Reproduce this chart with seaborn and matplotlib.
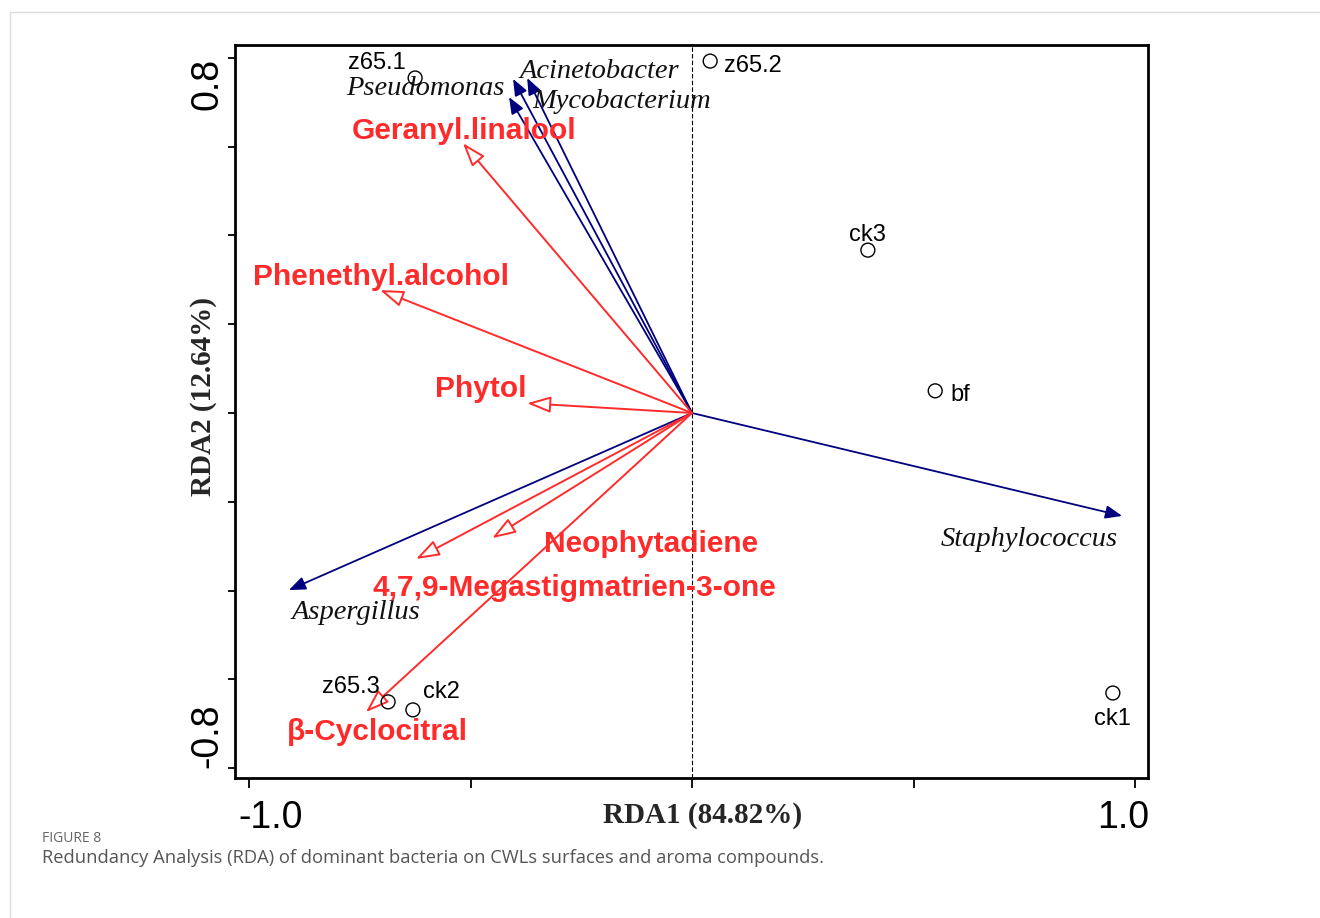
import matplotlib
matplotlib.use('Agg')
import matplotlib.pyplot as plt
import matplotlib.transforms as mtransforms
from matplotlib.lines import Line2D
import seaborn as sns
import pandas as pd

# ---------------- data ----------------
species = ['Pseudomonas', 'Acinetobacter', 'Mycobacterium', 'Staphylococcus', 'Aspergillus']
species_rda1 = [-0.413, -0.404, -0.372, 0.971, -0.910]
species_rda2 = [0.712, 0.753, 0.755, -0.232, -0.399]

compounds = ['Geranyl.linalool', 'Phenethyl.alcohol', 'Phytol', 'Neophytadiene',
             '4,7,9-Megastigmatrien-3-one', 'β-Cyclocitral']
compound_rda1 = [-0.517, -0.704, -0.372, -0.451, -0.623, -0.736]
compound_rda2 = [0.608, 0.277, 0.022, -0.282, -0.329, -0.674]

samples = ['z65.1', 'z65.2', 'ck3', 'bf', 'ck1', 'z65.3', 'ck2']
sample_rda1 = [-0.625, 0.041, 0.397, 0.549, 0.950, -0.686, -0.630]
sample_rda2 = [0.755, 0.793, 0.367, 0.050, -0.631, -0.651, -0.669]

x_ticks = [-1.0, -0.5, 0.0, 0.5, 1.0]
x_ticklabels = ['-1.0', '', '', '', '1.0']
y_ticks = [-0.8, -0.6, -0.4, -0.2, 0.0, 0.2, 0.4, 0.6, 0.8]
y_ticklabels = ['-0.8', '', '', '', '', '', '', '', '0.8']

xlabel = 'RDA1 (84.82%)'
ylabel = 'RDA2 (12.64%)'
caption_title = 'FIGURE 8'
caption_text = 'Redundancy Analysis (RDA) of dominant bacteria on CWLs surfaces and aroma compounds.'

# ---------------- layout (label offsets in pixels: dx, dy-up, ha) ----------------
species_lab = {
    'Pseudomonas': (-5, 9, 'right'),
    'Acinetobacter': (7, 7, 'left'),
    'Mycobacterium': (5, -24, 'left'),
    'Staphylococcus': (-4, -24, 'right'),
    'Aspergillus': (3, -22, 'left'),
}
compound_lab = {
    'Geranyl.linalool': (1, 12, 'center'),
    'Phenethyl.alcohol': (1, 13, 'center'),
    'Phytol': (-1, 14, 'right'),
    'Neophytadiene': (52, -6, 'left'),
    '4,7,9-Megastigmatrien-3-one': (-44, -29, 'left'),
    'β-Cyclocitral': (-79, -20, 'left'),
}
sample_lab = {
    'z65.1': (-9, 15, 'right'),
    'z65.2': (14, -5, 'left'),
    'ck3': (0, 15, 'center'),
    'bf': (15, -4, 'left'),
    'ck1': (0, -26, 'center'),
    'z65.3': (-8, 15, 'right'),
    'ck2': (10, 18, 'left'),
}
PX = 0.72  # pixel -> points at dpi 100

BLUE = '#00007f'
RED = '#ff2b2b'

sns.set_theme(style='white')
plt.rcParams['font.family'] = ['Liberation Sans', 'DejaVu Sans']

fig = plt.figure(figsize=(13.2, 9.18), dpi=100)
ax = fig.add_axes([235 / 1320, 1 - 778 / 918, (1148 - 235) / 1320, (778 - 45) / 918])

xl = ((235 - 692) / 443, (1148 - 692) / 443)
yl = ((413 - 778) / 443.75, (413 - 45) / 443.75)
ax.set_xlim(*xl)
ax.set_ylim(*yl)

# dashed vertical zero line
ax.axvline(0, color='black', lw=0.8, ls=(0, (4, 2)), zorder=1)

# species arrows (blue, filled heads)
for name, x, y in zip(species, species_rda1, species_rda2):
    ax.annotate('', xy=(x, y), xytext=(0, 0),
                arrowprops=dict(arrowstyle='-|>,head_length=0.5,head_width=0.2',
                                mutation_scale=20, color=BLUE, lw=1.3,
                                shrinkA=0, shrinkB=0), zorder=3)
    dx, dy, ha = species_lab[name]
    ax.annotate(name, xy=(x, y), xytext=(dx * PX, dy * PX), textcoords='offset points',
                ha=ha, va='center', fontsize=20.5, style='italic',
                family=['Liberation Serif', 'DejaVu Serif'], color='#111111', zorder=4)

# compound arrows (red, open heads)
for name, x, y in zip(compounds, compound_rda1, compound_rda2):
    ax.annotate('', xy=(x, y), xytext=(0, 0),
                arrowprops=dict(arrowstyle='-|>,head_length=0.72,head_width=0.25',
                                mutation_scale=20, fc='white', ec=RED, lw=1.4,
                                shrinkA=0, shrinkB=0), zorder=3)
    dx, dy, ha = compound_lab[name]
    ax.annotate(name, xy=(x, y), xytext=(dx * PX, dy * PX), textcoords='offset points',
                ha=ha, va='center', fontsize=21.5, fontweight='bold', color=RED, zorder=4)

# samples (open circles)
df = pd.DataFrame({'RDA1': sample_rda1, 'RDA2': sample_rda2, 'sample': samples})
sns.scatterplot(data=df, x='RDA1', y='RDA2', ax=ax, marker='o', s=100,
                facecolor='none', edgecolor='black', linewidth=1.0, zorder=5, legend=False)
for name, x, y in zip(samples, sample_rda1, sample_rda2):
    dx, dy, ha = sample_lab[name]
    ax.annotate(name, xy=(x, y), xytext=(dx * PX, dy * PX), textcoords='offset points',
                ha=ha, va='center', fontsize=17, color='black', zorder=6)

# axes styling
for sp in ax.spines.values():
    sp.set_visible(True)
    sp.set_color('black')
    sp.set_linewidth(2.0)
ax.set_xticks(x_ticks)
ax.set_xticklabels(x_ticklabels)
ax.set_yticks(y_ticks)
ax.set_yticklabels(y_ticklabels)
ax.tick_params(axis='both', direction='out', width=1.3, colors='black',
               labelsize=27, bottom=True, left=True)
ax.tick_params(axis='x', length=7, pad=9)
ax.tick_params(axis='y', length=5, pad=2)

xt = ax.get_xticklabels()
xt[0].set_transform(xt[0].get_transform() + mtransforms.ScaledTranslation(22 / 100, 0, fig.dpi_scale_trans))
xt[-1].set_transform(xt[-1].get_transform() + mtransforms.ScaledTranslation(-12 / 100, 0, fig.dpi_scale_trans))
yt = ax.get_yticklabels()
for lab in yt:
    lab.set_rotation(90)
yt[0].set_va('bottom')
yt[-1].set_va('top')

ax.set_xlabel(xlabel, fontsize=21, fontweight='bold', family=['Liberation Serif', 'DejaVu Serif'])
ax.xaxis.label.set_va('center')
ax.xaxis.set_label_coords(0.512, -0.051)
ax.set_ylabel(ylabel, fontsize=21, fontweight='bold', family=['Liberation Serif', 'DejaVu Serif'])
ax.yaxis.label.set_va('center')
ax.yaxis.set_label_coords(-0.035, 0.52)

# page frame lines and caption
fig.add_artist(Line2D([10 / 1320, 10 / 1320], [0, 1 - 12 / 918], transform=fig.transFigure,
                      color='#dddddd', lw=1))
fig.add_artist(Line2D([10 / 1320, 1], [1 - 12 / 918, 1 - 12 / 918], transform=fig.transFigure,
                      color='#dddddd', lw=1))
fig.text(42 / 1320, 1 - 838 / 918, caption_title, fontsize=10, color='#666666',
         family=['Open Sans', 'DejaVu Sans'], va='center', ha='left')
fig.text(42 / 1320, 1 - 858 / 918, caption_text, fontsize=13.2, color='#555555',
         family=['Open Sans', 'DejaVu Sans'], va='center', ha='left')

fig.savefig('out.png', dpi=100)
